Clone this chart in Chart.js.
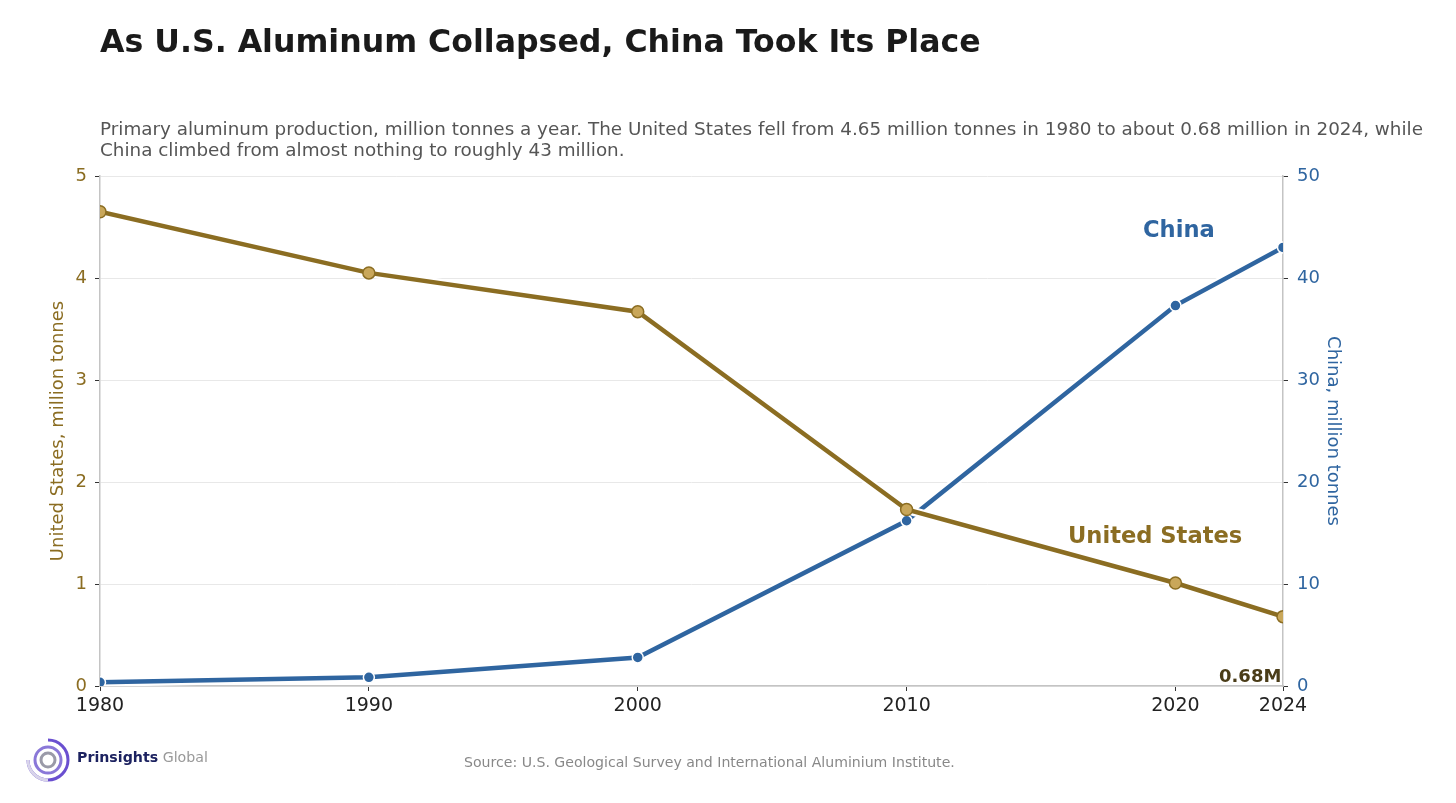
<!DOCTYPE html>
<html>
<head>
<meta charset="utf-8">
<script src="https://cdn.jsdelivr.net/npm/chart.js@4/dist/chart.umd.min.js"></script>
<style>
  html, body { margin: 0; padding: 0; background: #fff; }
  body { width: 1456px; height: 803px; position: relative; overflow: hidden; font-family: "DejaVu Sans", sans-serif; }
  #wrap { position: absolute; left: 0; top: 0; width: 1456px; height: 803px; }
  .txt { position: absolute; white-space: nowrap; }
  #title { left: 100px; top: 23px; font-size: 31.6px; font-weight: bold; color: #1a1a1a; }
  #sub { left: 100px; top: 118px; font-size: 18.35px; color: #555; line-height: 21px; }
  #lblChina { left: 1143px; top: 216px; font-size: 22.6px; font-weight: bold; color: #2f65a0; }
  #lblUS { left: 1068px; top: 522px; font-size: 22.6px; font-weight: bold; color: #8b6d22; }
  #lblEnd { left: 1219px; top: 665px; font-size: 18px; font-weight: bold; color: #4a3c18; }
  #source { left: 464px; top: 754px; font-size: 14.1px; color: #888; }
  #logo { position: absolute; left: 24px; top: 736px; }
  #logoTxt { left: 77px; top: 749px; font-size: 14.2px; }
</style>
</head>
<body>
<div id="wrap"><canvas id="myChart" width="1456" height="803"></canvas></div>
<div class="txt" id="title">As U.S. Aluminum Collapsed, China Took Its Place</div>
<div class="txt" id="sub">Primary aluminum production, million tonnes a year. The United States fell from 4.65 million tonnes in 1980 to about 0.68 million in 2024, while<br>China climbed from almost nothing to roughly 43 million.</div>
<div class="txt" id="lblChina">China</div>
<div class="txt" id="lblUS">United States</div>
<div class="txt" id="lblEnd">0.68M</div>
<div class="txt" id="source">Source: U.S. Geological Survey and International Aluminium Institute.</div>
<svg id="logo" width="48" height="48" viewBox="0 0 48 48">
  <path d="M24 4 A20 20 0 1 1 4 24" fill="none" stroke="#6a4fd0" stroke-width="3"/>
  <path d="M4 24 A20 20 0 0 0 24 44" fill="none" stroke="#d8d4ea" stroke-width="3"/>
  <circle cx="24" cy="24" r="13" fill="none" stroke="#8a78d8" stroke-width="3"/>
  <circle cx="24" cy="24" r="7" fill="none" stroke="#9a9aa8" stroke-width="3"/>
</svg>
<div class="txt" id="logoTxt"><span style="font-weight:bold;color:#1c2260">Prinsights</span> <span style="color:#999">Global</span></div>
<script>
const years = [1980, 1990, 2000, 2010, 2020, 2024];
const usValues = [4.65, 4.05, 3.67, 1.73, 1.01, 0.68];
const chinaValues = [0.36, 0.85, 2.8, 16.2, 37.3, 43];
const xTicks = [1980, 1990, 2000, 2010, 2020, 2024];
const usTicks = [0, 1, 2, 3, 4, 5];
const chinaTicks = [0, 10, 20, 30, 40, 50];

const gold = '#8b6d22';
const blue = '#2f65a0';

const pts = (vals) => years.map((y, i) => ({ x: y, y: vals[i] }));

const ctx = document.getElementById('myChart');

new Chart(ctx, {
  type: 'line',
  data: {
    datasets: [
      {
        label: 'us-halo', data: pts(usValues), yAxisID: 'yUS',
        borderColor: '#fff', borderWidth: 9, pointRadius: 0, order: 2
      },
      {
        label: 'United States', data: pts(usValues), yAxisID: 'yUS',
        borderColor: gold, borderWidth: 4.5, pointRadius: 6,
        pointBackgroundColor: '#c9a75a', pointBorderColor: gold, pointBorderWidth: 1.5, order: 1
      },
      {
        label: 'china-halo', data: pts(chinaValues), yAxisID: 'yCN',
        borderColor: '#fff', borderWidth: 9, pointRadius: 0, order: 4
      },
      {
        label: 'China', data: pts(chinaValues), yAxisID: 'yCN',
        borderColor: blue, borderWidth: 4.5, pointRadius: 5.5,
        pointBackgroundColor: blue, pointBorderColor: '#fff', pointBorderWidth: 1.5, order: 3
      }
    ]
  },
  options: {
    responsive: false,
    animation: false,
    layout: { padding: { top: 176, left: 44, right: 109, bottom: 77 } },
    plugins: { legend: { display: false }, tooltip: { enabled: false } },
    scales: {
      x: {
        type: 'linear', min: 1980, max: 2024,
        afterBuildTicks: (s) => { s.ticks = xTicks.map(v => ({ value: v })); },
        afterFit: (s) => { s.height = 40; },
        ticks: { color: '#222', font: { family: 'DejaVu Sans', size: 19 }, padding: 4, maxRotation: 0,
                 callback: (v) => String(v) },
        grid: { drawOnChartArea: false, tickColor: '#333', tickLength: 5 },
        border: { color: '#c4c4c4', width: 1.5 }
      },
      yUS: {
        position: 'left', min: 0, max: 5,
        afterBuildTicks: (s) => { s.ticks = usTicks.map(v => ({ value: v })); },
        afterFit: (s) => { s.width = 56; },
        ticks: { color: gold, font: { family: 'DejaVu Sans', size: 18 }, padding: 8 },
        grid: { color: '#e8e8e8', tickColor: '#333', tickLength: 5 },
        border: { color: '#c4c4c4', width: 1.5 },
        title: { display: true, text: 'United States, million tonnes', color: gold,
                 font: { family: 'DejaVu Sans', size: 18 } }
      },
      yCN: {
        position: 'right', min: 0, max: 50,
        afterBuildTicks: (s) => { s.ticks = chinaTicks.map(v => ({ value: v })); },
        afterFit: (s) => { s.width = 64; },
        ticks: { color: blue, font: { family: 'DejaVu Sans', size: 18 }, padding: 9 },
        grid: { drawOnChartArea: false, tickColor: '#333', tickLength: 5 },
        border: { color: '#c4c4c4', width: 1.5 },
        title: { display: true, text: 'China, million tonnes', color: blue,
                 font: { family: 'DejaVu Sans', size: 18 } }
      }
    }
  }
});
</script>
</body>
</html>
